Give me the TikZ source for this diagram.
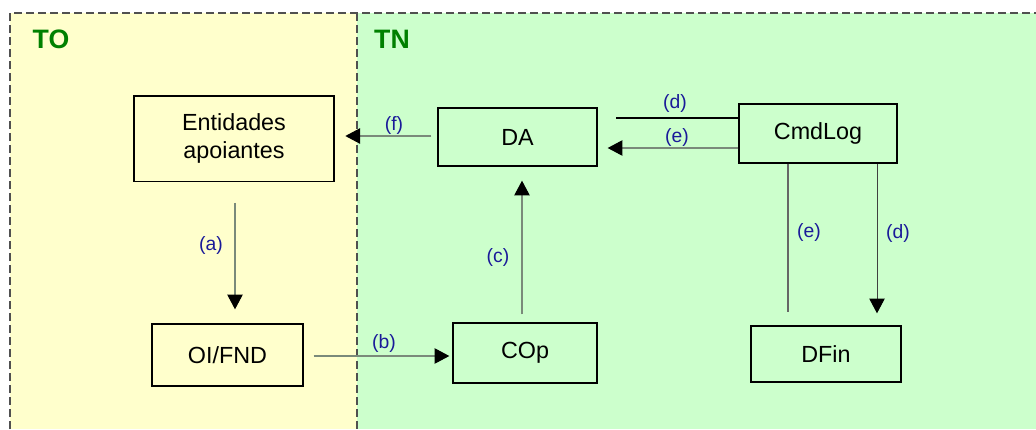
\documentclass[tikz,border=0pt]{standalone}
\usepackage{fontspec}
\setmainfont{Liberation Sans}
\usetikzlibrary{arrows.meta}
\definecolor{yel}{HTML}{FFFFCC}
\definecolor{grn}{HTML}{CCFFCC}
\definecolor{ttl}{HTML}{008000}
\definecolor{lbl}{HTML}{1A1A99}
\definecolor{dsh}{HTML}{505050}
\definecolor{ln}{HTML}{7A8A7A}
\tikzset{
  box/.style={draw=black, line width=1pt, inner sep=0pt, align=center, font=\fontsize{17.5}{21.5}\selectfont},
  lab/.style={text=lbl, font=\fontsize{14.5}{16}\selectfont, inner sep=0pt},
  ttlstyle/.style={text=ttl, font=\fontsize{20}{22}\selectfont\bfseries, inner sep=0pt},
  conn/.style={draw=ln, line width=0.8pt},
  arr/.style={conn, -{Triangle[length=11pt,width=11.5pt,color=black]}},
  border/.style={draw=dsh, line width=1pt, dash pattern=on 6pt off 3pt},
}
\begin{document}
\begin{tikzpicture}[x=0.75pt,y=-0.75pt]
\useasboundingbox (0,0) rectangle (1036,429);
\fill[yel] (10,13) rectangle (357,429);
\fill[grn] (357,13) rectangle (1036,429);
\draw[border] (10,429) -- (10,13) -- (1036,13);
\draw[border] (357,13) -- (357,429);
\node[ttlstyle] (to) at (51,39) {TO};
\node[ttlstyle] (tn) at (392,39) {TN};
\node[box, minimum width=150pt, minimum height=64pt] (ent) at (234,138.5) {Entidades\\apoiantes};
\node[box, minimum width=119.25pt, minimum height=43.5pt] (da) at (517.5,137) {DA};
\node[box, minimum width=118.5pt, minimum height=44.25pt] (cmd) at (818,133.5) {CmdLog};
\node[box, minimum width=112.5pt, minimum height=42pt] (dfin) at (826,354) {DFin};
\node[box, minimum width=113.25pt, minimum height=46.5pt] (oi) at (227.5,355) {OI/FND};
\node[box, minimum width=108pt, minimum height=45pt] (cop) at (525,353) {COp};
% (f)
\draw[arr, shorten <=4.5pt, shorten >=8pt] (da.west |- 0,136) -- (ent.east |- 0,136);
\node[lab] (lf) at (394,125) {(f)};
% (d) top
\draw[black, line width=1.4pt, shorten >=13.5pt] (cmd.west |- 0,118) -- (da.east |- 0,118);
\node[lab] (ld1) at (675,103) {(d)};
% (e) top
\draw[arr, shorten >=7.5pt] (cmd.west |- 0,148) -- (da.east |- 0,148);
\node[lab] (le1) at (677,137) {(e)};
% (e) down
\draw[conn, draw=black!60, shorten >=9.75pt] (cmd.south -| 788,0) -- (dfin.north -| 788,0);
\node[lab] (le2) at (809,232) {(e)};
% (d) down
\draw[arr, line width=0.75pt, draw=black!75, shorten >=9pt] (cmd.south -| 877,0) -- (dfin.north -| 877,0);
\node[lab] (ld2) at (898,233) {(d)};
% (a)
\draw[arr, shorten <=15.75pt, shorten >=10.5pt] (ent.south -| 235,0) -- (oi.north -| 235,0);
\node[lab] (la) at (211,245) {(a)};
% (b)
\draw[arr, shorten <=7.5pt, shorten >=2.25pt] (oi.east |- 0,356) -- (cop.west |- 0,356);
\node[lab] (lb) at (384,343) {(b)};
% (c)
\draw[arr, shorten <=6pt, shorten >=10.5pt] (cop.north -| 522,0) -- (da.south -| 522,0);
\node[lab] (lc) at (498,257) {(c)};
\end{tikzpicture}
\end{document}
